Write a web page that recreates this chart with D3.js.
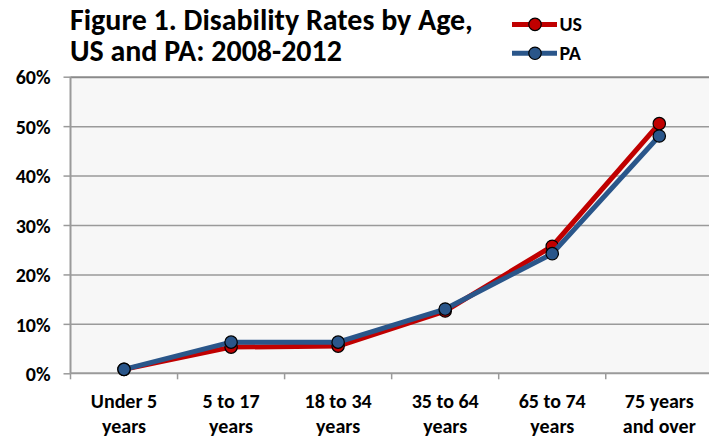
<!DOCTYPE html>
<html><head><meta charset="utf-8">
<script src="https://cdn.jsdelivr.net/npm/d3@7"></script>
<style>
html,body{margin:0;padding:0;background:#fff;}
svg{display:block;}
text{font-family:Carlito,Calibri,Lato,"DejaVu Sans",sans-serif;font-weight:bold;fill:#000;}
</style></head>
<body>
<svg id="c" width="709" height="436"></svg>
<script>
const categories = [["Under 5","years"],["5 to 17","years"],["18 to 34","years"],["35 to 64","years"],["65 to 74","years"],["75 years","and over"]];
const usValues = [0.008, 0.053, 0.055, 0.126, 0.257, 0.505];
const paValues = [0.008, 0.063, 0.063, 0.130, 0.242, 0.480];
const yTicks = [0, 0.1, 0.2, 0.3, 0.4, 0.5, 0.6];
const titleLines = ["Figure 1. Disability Rates by Age,", "US and PA: 2008-2012"];
const seriesNames = ["US", "PA"];

const svg = d3.select("#c");
const pLeft = 70.5, pRight = 712.8, pTop = 76.7, pBottom = 373.3;
const US_COLOR = "#c00000", PA_COLOR = "#2a568a";
const LABEL_SIZE = 20;

const x = d3.scaleBand().domain(d3.range(categories.length)).range([pLeft, pRight]).paddingInner(0).paddingOuter(0);
const y = d3.scaleLinear().domain([0, 0.6]).range([pBottom, pTop]);

// plot background
svg.append("rect").attr("x", pLeft).attr("y", pTop).attr("width", pRight - pLeft).attr("height", pBottom - pTop).attr("fill", "#f7f7f7");

// gridlines
svg.append("g").attr("transform", `translate(${pLeft},0)`)
  .call(d3.axisLeft(y).tickValues(yTicks.slice(1)).tickSize(-(pRight - pLeft)).tickFormat(""))
  .call(g => g.select(".domain").remove())
  .call(g => g.selectAll("line").attr("stroke", (d) => d === 0.6 ? "#8a8a8a" : "#9a9a9a").attr("stroke-width", d => d === 0.6 ? 2 : 1.5));

// y axis
const yAx = svg.append("g").attr("transform", `translate(${pLeft},0)`)
  .call(d3.axisLeft(y).tickValues(yTicks).tickSize(7).tickPadding(13).tickFormat(d3.format(".0%")));
yAx.select(".domain").attr("stroke", "#9a9a9a").attr("stroke-width", 2).attr("d", `M0,${pTop}V${pBottom}`);
yAx.selectAll(".tick line").attr("stroke", "#9a9a9a").attr("stroke-width", 1.5);
yAx.selectAll(".tick text").attr("font-size", LABEL_SIZE).attr("dy", "0.36em");

// x axis line
svg.append("line").attr("x1", pLeft).attr("x2", pRight).attr("y1", pBottom).attr("y2", pBottom).attr("stroke", "#9a9a9a").attr("stroke-width", 2);
// x ticks at band boundaries
const bounds = d3.range(categories.length + 1).map(i => pLeft + i * x.step());
svg.append("g").selectAll("line").data(bounds).join("line")
  .attr("x1", d => d).attr("x2", d => d).attr("y1", pBottom).attr("y2", pBottom + 6)
  .attr("stroke", "#9a9a9a").attr("stroke-width", 1.5);

// x labels
const xl = svg.append("g").selectAll("text").data(categories).join("text")
  .attr("text-anchor", "middle").attr("font-size", LABEL_SIZE)
  .attr("x", (d, i) => x(i) + x.bandwidth() / 2);
xl.selectAll("tspan").data(d => d).join("tspan")
  .attr("x", function() { return this.parentNode.getAttribute("x"); })
  .attr("y", (d, j) => 408 + j * 25).text(d => d);

// lines
const cx = i => x(i) + x.bandwidth() / 2;
const line = d3.line().x((d, i) => cx(i)).y(d => y(d));
function drawSeries(vals, color) {
  svg.append("path").datum(vals).attr("d", line).attr("fill", "none")
    .attr("stroke", color).attr("stroke-width", 5).attr("stroke-linejoin", "round");
  svg.append("g").selectAll("circle").data(vals).join("circle")
    .attr("cx", (d, i) => cx(i)).attr("cy", d => y(d)).attr("r", 6.2)
    .attr("fill", color).attr("stroke", "#000").attr("stroke-width", 1.2);
}
drawSeries(usValues, US_COLOR);
drawSeries(paValues, PA_COLOR);

// title
const t = svg.append("text").attr("x", 70).attr("font-size", 28);
t.selectAll("tspan").data(titleLines).join("tspan").attr("x", 70).attr("y", (d, i) => 29.5 + i * 31).text(d => d);
const first = t.select("tspan").node();
const w = first.getComputedTextLength();
if (w > 0) t.attr("font-size", 28 * 403 / w);

// legend
const legColors = [US_COLOR, PA_COLOR];
const leg = svg.append("g").selectAll("g").data(seriesNames).join("g")
  .attr("transform", (d, i) => `translate(0,${24.4 + i * 28.9})`);
leg.append("line").attr("x1", 512).attr("x2", 557).attr("stroke", (d, i) => legColors[i]).attr("stroke-width", 5);
leg.append("circle").attr("cx", 535).attr("r", 6.2).attr("fill", (d, i) => legColors[i]).attr("stroke", "#000").attr("stroke-width", 1.2);
leg.append("text").attr("x", 559.5).attr("y", 6.5).attr("font-size", LABEL_SIZE).text(d => d);
</script>
</body></html>
